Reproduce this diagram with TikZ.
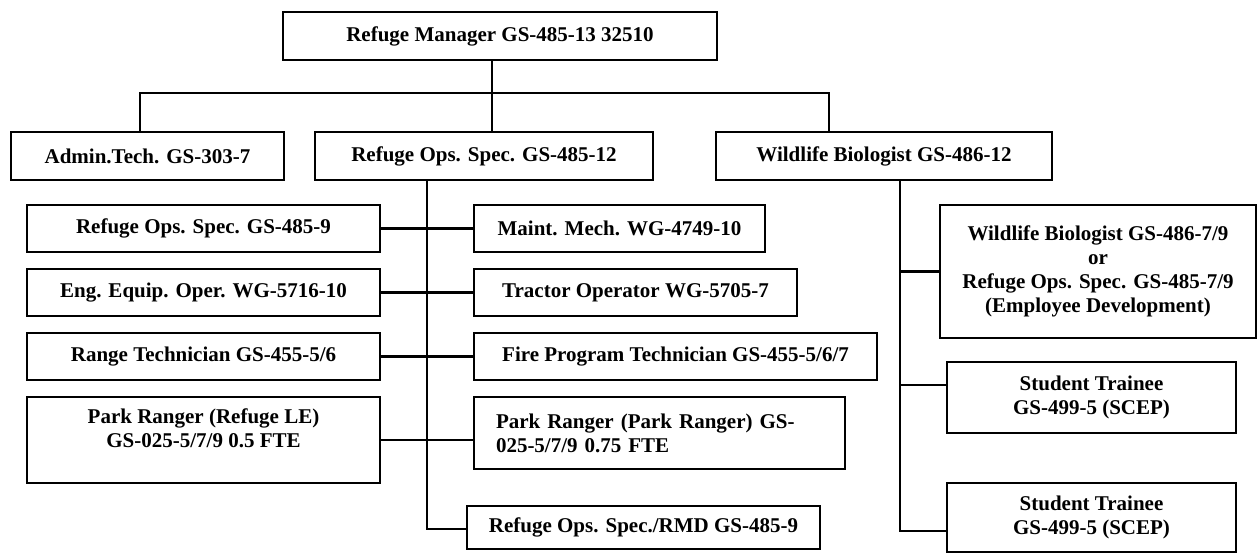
\documentclass[tikz,border=0pt]{standalone}
\usepackage{fontspec}
\setmainfont{Liberation Serif}
\begin{document}
\begin{tikzpicture}[x=1pt,y=-1pt,line width=2.2pt,
  font=\fontsize{21}{24}\selectfont\bfseries,
  post/.style={draw,line width=2.5pt,align=center,inner sep=0pt}]
  \useasboundingbox (0,0) rectangle (1258,554);
  % top row
  \node[post,minimum width=434pt,minimum height=48pt] (mgr) at (500,36) {Refuge Manager GS-485-13 32510};
  \node[post,minimum width=273pt,minimum height=48pt] (admin) at (147.5,156) {Admin.Tech. GS-303-7};
  \node[post,minimum width=338pt,minimum height=48pt] (ops12) at (484,156) {Refuge Ops. Spec. GS-485-12};
  \node[post,minimum width=336pt,minimum height=48pt] (wb12) at (884,156) {Wildlife Biologist GS-486-12};
  % left column
  \node[post,minimum width=353pt,minimum height=47pt] (ops9) at (203.5,228.5) {Refuge Ops. Spec. GS-485-9};
  \node[post,minimum width=353pt,minimum height=47pt] (eng) at (203.5,292.5) {Eng. Equip. Oper. WG-5716-10};
  \node[post,minimum width=353pt,minimum height=47pt] (range) at (203.5,356.5) {Range Technician GS-455-5/6};
  \node[post,minimum width=353pt,minimum height=86pt] (parkle) at (203.5,440) {Park Ranger (Refuge LE)\\GS-025-5/7/9 0.5 FTE\\\mbox{}};
  % middle column
  \node[post,minimum width=291pt,minimum height=47pt] (maint) at (619.5,228.5) {Maint. Mech. WG-4749-10};
  \node[post,minimum width=323pt,minimum height=47pt] (tractor) at (635.5,292.5) {Tractor Operator WG-5705-7};
  \node[post,minimum width=403pt,minimum height=47pt] (fire) at (675.5,356.5) {Fire Program Technician GS-455-5/6/7};
  \node[post,align=left,inner xsep=22pt,text width=327pt,minimum height=72pt] (parkpr) at (659.5,433) {Park Ranger (Park Ranger) GS-\\025-5/7/9 0.75 FTE};
  \node[post,minimum width=353pt,minimum height=43pt] (rmd) at (643.5,527.5) {Refuge Ops. Spec./RMD GS-485-9};
  % right column
  \node[post,minimum width=316pt,minimum height=133pt] (wb79) at (1098,271.5) {Wildlife Biologist GS-486-7/9\\or\\Refuge Ops. Spec. GS-485-7/9\\(Employee Development)};
  \node[post,minimum width=289pt,minimum height=71pt] (st1) at (1091.5,397.5) {Student Trainee\\GS-499-5 (SCEP)};
  \node[post,minimum width=289pt,minimum height=69pt] (st2) at (1091.5,517.5) {Student Trainee\\GS-499-5 (SCEP)};
  % connectors
  \coordinate (bus) at (492,93);
  \coordinate (busL) at (140,93);
  \coordinate (busR) at (829,93);
  \coordinate (trunkA) at (427,529);
  \coordinate (trunkB) at (900,531);
  \draw (mgr.south -| bus) -- (ops12.north -| bus);
  \draw (admin.north -| busL) -- (busL) -- (busR) -- (wb12.north -| busR);
  \draw (ops12.south -| trunkA) -- (trunkA) -- (trunkA -| rmd.west);
  \draw (ops9.east) -- (maint.west);
  \draw (eng.east) -- (tractor.west);
  \draw (range.east) -- (fire.west);
  \draw (parkle.east) -- (parkle.east -| parkpr.west);
  \draw (wb12.south -| trunkB) -- (trunkB) -- (trunkB -| st2.west);
  \draw (trunkB |- wb79.west) -- (wb79.west);
  \draw (trunkB |- 0,385) -- (st1.west |- 0,385);
\end{tikzpicture}
\end{document}
